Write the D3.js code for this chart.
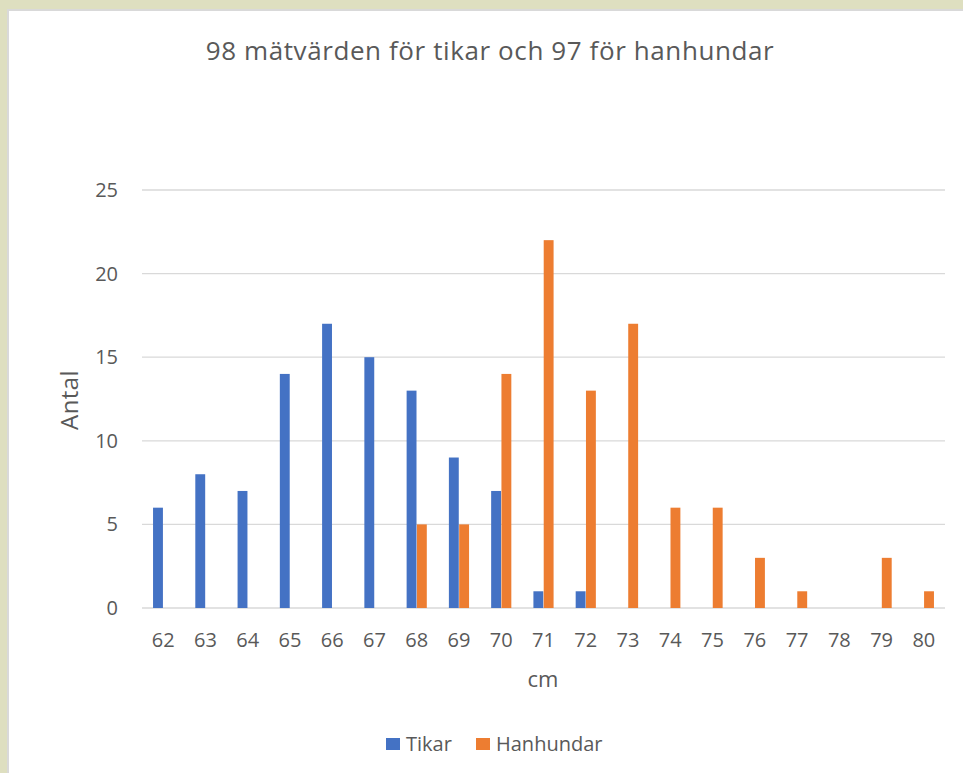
<!DOCTYPE html>
<html><head><meta charset="utf-8">
<script src="https://cdn.jsdelivr.net/npm/d3@7"></script>
<style>
html,body{margin:0;padding:0;background:#dedfc0;overflow:hidden;}
svg{display:block;}
text{font-family:"Open Sans","Noto Sans",sans-serif;}
</style></head>
<body>
<svg id="chart" width="963" height="773"></svg>
<script>
const categories = ["62","63","64","65","66","67","68","69","70","71","72","73","74","75","76","77","78","79","80"];
const tikar =     [6, 8, 7, 14, 17, 15, 13, 9, 7, 1, 1, 0, 0, 0, 0, 0, 0, 0, 0];
const hanhundar = [0, 0, 0, 0, 0, 0, 5, 5, 14, 22, 13, 17, 6, 6, 3, 1, 0, 3, 1];
const seriesNames = ["Tikar", "Hanhundar"];
const yTicks = [0, 5, 10, 15, 20, 25];
const colors = ["#4472C4", "#ED7D31"];

const svg = d3.select("#chart");
const textColor = "#595959";
// panel
svg.append("rect").attr("x", 8).attr("y", 10).attr("width", 1000).attr("height", 800)
  .attr("fill", "#ffffff").attr("stroke", "#d9d9d9").attr("stroke-width", 2);

const plotL = 142, plotR = 945, plotT = 190, plotB = 608;
const x = d3.scaleBand().domain(categories).range([plotL, plotR]).padding(0);
const x1 = d3.scaleBand().domain(seriesNames).range([-10.5, 10.5]).padding(0.04);
const y = d3.scaleLinear().domain([0, 25]).range([plotB, plotT]);

// gridlines
svg.append("g").selectAll("line").data(yTicks).join("line")
  .attr("x1", plotL).attr("x2", plotR)
  .attr("y1", d => y(d)).attr("y2", d => y(d))
  .attr("stroke", "#d9d9d9").attr("stroke-width", d => d === 0 ? 1.6 : 1.3);

// y axis labels
const yAxis = d3.axisLeft(y).tickValues(yTicks).tickSize(0).tickPadding(0);
const yg = svg.append("g").attr("transform", `translate(${plotL - 24},0)`).call(yAxis);
yg.select(".domain").remove();
yg.selectAll("text").attr("fill", textColor).style("font-size", "20px")
  .style("font-family", '"Open Sans","Noto Sans",sans-serif');

// x axis labels
const xAxis = d3.axisBottom(x).tickSize(0).tickPadding(0);
const xg = svg.append("g").attr("transform", `translate(0,${plotB + 25})`).call(xAxis);
xg.select(".domain").remove();
xg.selectAll("text").attr("fill", textColor).style("font-size", "20px")
  .style("font-family", '"Open Sans","Noto Sans",sans-serif');

// bars
const data = [tikar, hanhundar];
data.forEach((vals, si) => {
  svg.append("g").selectAll("rect").data(vals.map((v, i) => ({v, c: categories[i]}))).join("rect")
    .attr("x", d => x(d.c) + x.bandwidth() / 2 + x1(seriesNames[si]))
    .attr("width", x1.bandwidth())
    .attr("y", d => y(d.v))
    .attr("height", d => y(0) - y(d.v))
    .attr("fill", colors[si]);
});

// title
svg.append("text").attr("x", 490).attr("y", 60).attr("text-anchor", "middle")
  .attr("fill", textColor).style("font-size", "26px").style("letter-spacing", "0.6px")
  .text("98 mätvärden för tikar och 97 för hanhundar");

// axis titles
svg.append("text").attr("transform", "translate(78,400) rotate(-90)").attr("text-anchor", "middle")
  .attr("fill", textColor).style("font-size", "24px").style("letter-spacing", "0.4px").text("Antal");
svg.append("text").attr("x", 543).attr("y", 687).attr("text-anchor", "middle")
  .attr("fill", textColor).style("font-size", "22px").text("cm");

// legend
const legendItems = [{name: seriesNames[0], x: 386}, {name: seriesNames[1], x: 476}];
const lg = svg.append("g");
legendItems.forEach((it, i) => {
  lg.append("rect").attr("x", it.x).attr("y", 738).attr("width", 14).attr("height", 12).attr("fill", colors[i]);
  lg.append("text").attr("x", it.x + 20).attr("y", 751).attr("fill", textColor)
    .style("font-size", "20px").text(it.name);
});
</script>
</body></html>
